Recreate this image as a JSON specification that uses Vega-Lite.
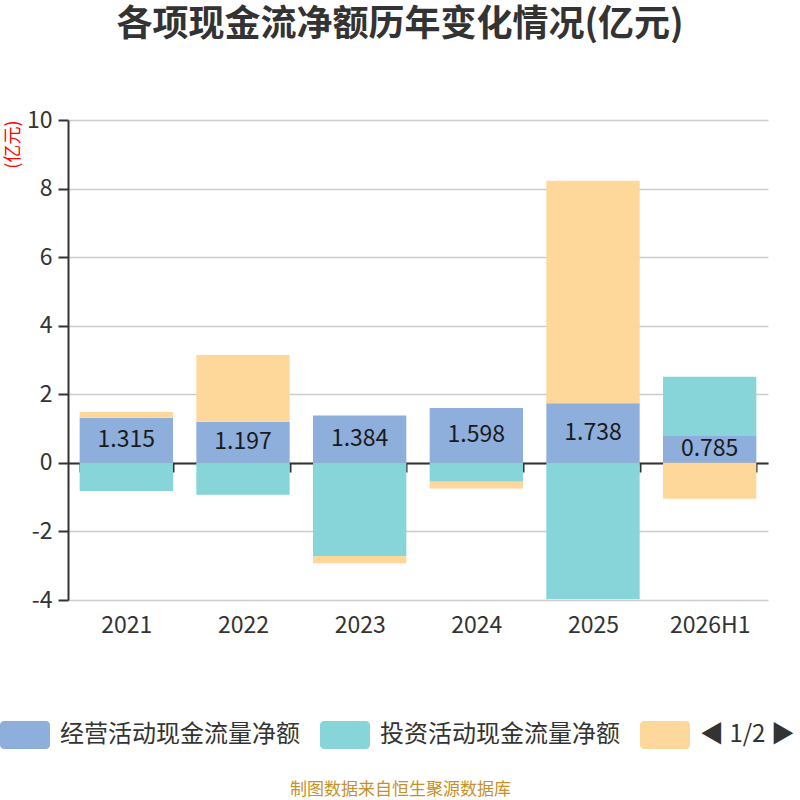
{
  "$schema": "https://vega.github.io/schema/vega-lite/v6.json",
  "width": 700,
  "height": 480,
  "autosize": {"type": "none"},
  "padding": {"left": 68, "top": 120, "right": 32, "bottom": 200},
  "background": "white",
  "config": {
    "font": "Noto Sans CJK SC",
    "view": {"stroke": null}
  },
  "title": {
    "text": "各项现金流净额历年变化情况(亿元)",
    "fontSize": 36,
    "fontWeight": "bold",
    "color": "#333333",
    "anchor": "middle",
    "frame": "group",
    "baseline": "middle",
    "offset": 48,
    "dx": -18
  },
  "data": {
    "values": [
      {"period": "2021", "series": "经营活动现金流量净额", "ord": 1, "value": 1.315},
      {"period": "2021", "series": "投资活动现金流量净额", "ord": 2, "value": -0.82},
      {"period": "2021", "series": "筹资活动现金流量净额", "ord": 3, "value": 0.17},
      {"period": "2022", "series": "经营活动现金流量净额", "ord": 1, "value": 1.197},
      {"period": "2022", "series": "投资活动现金流量净额", "ord": 2, "value": -0.93},
      {"period": "2022", "series": "筹资活动现金流量净额", "ord": 3, "value": 1.95},
      {"period": "2023", "series": "经营活动现金流量净额", "ord": 1, "value": 1.384},
      {"period": "2023", "series": "投资活动现金流量净额", "ord": 2, "value": -2.72},
      {"period": "2023", "series": "筹资活动现金流量净额", "ord": 3, "value": -0.21},
      {"period": "2024", "series": "经营活动现金流量净额", "ord": 1, "value": 1.598},
      {"period": "2024", "series": "投资活动现金流量净额", "ord": 2, "value": -0.55},
      {"period": "2024", "series": "筹资活动现金流量净额", "ord": 3, "value": -0.2},
      {"period": "2025", "series": "经营活动现金流量净额", "ord": 1, "value": 1.738},
      {"period": "2025", "series": "投资活动现金流量净额", "ord": 2, "value": -3.98},
      {"period": "2025", "series": "筹资活动现金流量净额", "ord": 3, "value": 6.49},
      {"period": "2026H1", "series": "经营活动现金流量净额", "ord": 1, "value": 0.785},
      {"period": "2026H1", "series": "投资活动现金流量净额", "ord": 2, "value": 1.73},
      {"period": "2026H1", "series": "筹资活动现金流量净额", "ord": 3, "value": -1.05}
    ]
  },
  "layer": [
    {
      "mark": {"type": "bar"},
      "encoding": {
        "x": {
          "field": "period",
          "type": "nominal",
          "sort": null,
          "scale": {"paddingInner": 0.2, "paddingOuter": 0.1},
          "axis": {
            "title": "制图数据来自恒生聚源数据库",
            "titleColor": "#c8902a",
            "titleFontSize": 17,
            "titleFontWeight": "normal",
            "titleX": 332,
            "titleY": 326,
            "titleBaseline": "middle",
            "titleAlign": "center",
            "offset": -137,
            "labelPadding": 142,
            "labelAngle": 0,
            "labelFontSize": 23,
            "labelColor": "#333333",
            "tickBand": "extent",
            "tickSize": 9,
            "tickWidth": 2,
            "tickColor": "#333333",
            "domainColor": "#333333",
            "domainWidth": 2,
            "grid": false
          }
        },
        "y": {
          "field": "value",
          "type": "quantitative",
          "stack": "zero",
          "scale": {"domain": [-4, 10], "nice": false},
          "axis": {
            "title": "(亿元)",
            "titleColor": "#ff0000",
            "titleFontSize": 18,
            "titleFontWeight": "normal",
            "titleAnchor": "end",
            "titlePadding": 4,
            "values": [-4, -2, 0, 2, 4, 6, 8, 10],
            "labelExpr": "datum.value < 0 ? '-' + abs(datum.value) : '' + datum.value",
            "gridColor": "#cccccc",
            "gridWidth": 1.5,
            "domainColor": "#333333",
            "domainWidth": 2,
            "tickColor": "#333333",
            "tickWidth": 2,
            "tickSize": 10,
            "labelPadding": 6,
            "labelFontSize": 23,
            "labelColor": "#333333"
          }
        },
        "color": {
          "field": "series",
          "type": "nominal",
          "sort": ["经营活动现金流量净额", "投资活动现金流量净额", "筹资活动现金流量净额"],
          "scale": {
            "domain": ["经营活动现金流量净额", "投资活动现金流量净额", "筹资活动现金流量净额"],
            "range": ["#8eaedc", "#88d5d9", "#fed89b"]
          },
          "legend": {
            "orient": "none",
            "legendX": -68,
            "legendY": 590,
            "direction": "horizontal",
            "title": null,
            "padding": 0,
            "symbolType": "M-0.84,-0.56 H0.84 A0.16,0.16 0 0 1 1,-0.4 V0.4 A0.16,0.16 0 0 1 0.84,0.56 H-0.84 A0.16,0.16 0 0 1 -1,0.4 V-0.4 A0.16,0.16 0 0 1 -0.84,-0.56 Z",
            "symbolSize": 2500,
            "symbolStrokeWidth": 0,
            "symbolOpacity": 1,
            "labelFontSize": 24,
            "labelColor": "#333333",
            "labelOffset": 10,
            "labelLimit": 0,
            "columnPadding": 20,
            "labelExpr": "datum.label == '筹资活动现金流量净额' ? '◀ 1/2 ▶' : datum.label"
          }
        },
        "order": {"field": "ord", "type": "quantitative"}
      }
    },
    {
      "transform": [{"filter": "datum.series == '经营活动现金流量净额'"}],
      "mark": {"type": "text", "fontSize": 23, "color": "#1a1a1a", "baseline": "middle", "align": "center"},
      "encoding": {
        "x": {"field": "period", "type": "nominal", "sort": null},
        "y": {
          "field": "value",
          "type": "quantitative",
          "scale": {"domain": [-8, 20], "nice": false},
          "axis": null
        },
        "text": {"field": "value", "type": "quantitative", "format": ".3f"}
      }
    }
  ],
  "resolve": {"scale": {"y": "independent"}}
}
